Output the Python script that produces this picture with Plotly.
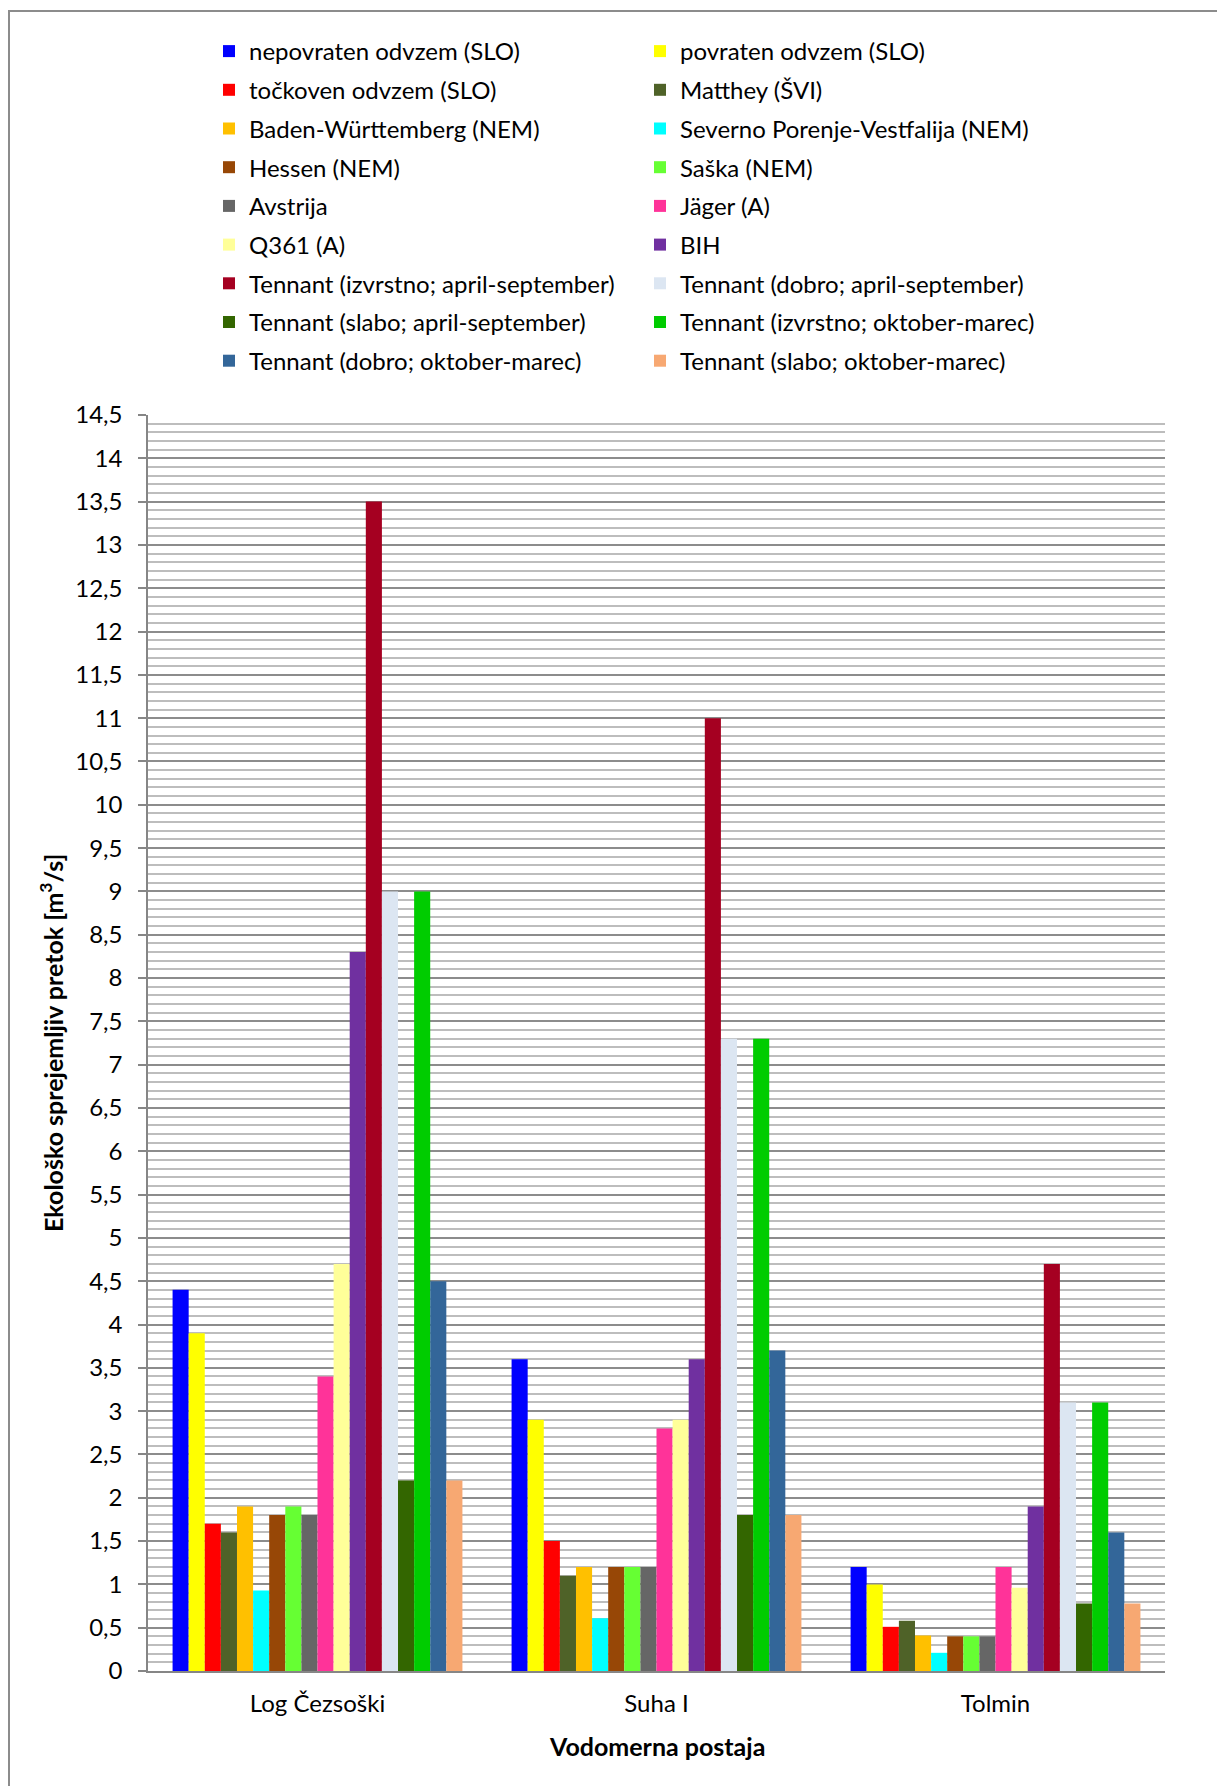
import plotly.graph_objects as go

categories = ["Log Čezsoški", "Suha I", "Tolmin"]

series_names = [
    "nepovraten odvzem (SLO)",
    "povraten odvzem (SLO)",
    "točkoven odvzem (SLO)",
    "Matthey (ŠVI)",
    "Baden-Württemberg (NEM)",
    "Severno Porenje-Vestfalija (NEM)",
    "Hessen (NEM)",
    "Saška (NEM)",
    "Avstrija",
    "Jäger (A)",
    "Q361 (A)",
    "BIH",
    "Tennant (izvrstno; april-september)",
    "Tennant (dobro; april-september)",
    "Tennant (slabo; april-september)",
    "Tennant (izvrstno; oktober-marec)",
    "Tennant (dobro; oktober-marec)",
    "Tennant (slabo; oktober-marec)",
]

nepovraten = [4.4, 3.6, 1.2]
povraten = [3.9, 2.9, 1.0]
tockoven = [1.7, 1.5, 0.51]
matthey = [1.6, 1.1, 0.58]
baden = [1.9, 1.2, 0.41]
severno = [0.93, 0.61, 0.21]
hessen = [1.8, 1.2, 0.4]
saska = [1.9, 1.2, 0.4]
avstrija = [1.8, 1.2, 0.4]
jager = [3.4, 2.8, 1.2]
q361 = [4.7, 2.9, 0.96]
bih = [8.3, 3.6, 1.9]
ten_izv_as = [13.5, 11.0, 4.7]
ten_dob_as = [9.0, 7.3, 3.1]
ten_sla_as = [2.2, 1.8, 0.78]
ten_izv_om = [9.0, 7.3, 3.1]
ten_dob_om = [4.5, 3.7, 1.6]
ten_sla_om = [2.2, 1.8, 0.78]

series_values = [nepovraten, povraten, tockoven, matthey, baden, severno, hessen,
                 saska, avstrija, jager, q361, bih, ten_izv_as, ten_dob_as,
                 ten_sla_as, ten_izv_om, ten_dob_om, ten_sla_om]

colors = ["#0000FF", "#FFFF00", "#FF0000", "#4F6228", "#FFC000", "#00FFFF",
          "#974706", "#66FF33", "#666666", "#FF3399", "#FFFF99", "#7030A0",
          "#A50021", "#DCE6F2", "#336600", "#00CC00", "#336699", "#F7A872"]

y_title = "<b>Ekološko sprejemljiv pretok [m<sup>3</sup>/s]</b>"
x_title = "<b>Vodomerna postaja</b>"

FONT = "Lato"
FS = 24
TFS = 25
# page has an 8px body margin, so the figure is drawn offset by 8px
W, H = 1217, 1778
ML, MR, MT, MB = 140, 60, 407, 115
PW, PH = W - ML - MR, H - MT - MB

fig = go.Figure()
for i, (name, vals, col) in enumerate(zip(series_names, series_values, colors)):
    fig.add_trace(go.Bar(
        x=categories, y=vals, name=name,
        marker=dict(color=col, line=dict(width=0)),
        legend="legend" if i % 2 == 0 else "legend2",
        legendgroup=f"g{i}",
    ))

legend_common = dict(
    orientation="v", traceorder="grouped", tracegroupgap=4.5,
    font=dict(family=FONT, size=FS, color="#000000"),
    bgcolor="rgba(0,0,0,0)", borderwidth=0,
    xref="container", yref="container", xanchor="left", yanchor="top",
    itemclick=False, itemdoubleclick=False,
)

fig.update_layout(
    width=W, height=H,
    margin=dict(l=ML, r=MR, t=MT, b=MB, autoexpand=False),
    paper_bgcolor="white", plot_bgcolor="white",
    separators=", ",
    barmode="group", bargap=0.145, bargroupgap=0,
    font=dict(family=FONT, size=FS, color="#000000"),
    legend=dict(x=201 / W, y=1 - 21 / H, **legend_common),
    legend2=dict(x=632 / W, y=1 - 21 / H, **legend_common),
    xaxis=dict(
        showline=True, linecolor="#868686", linewidth=1.5,
        ticks="", showgrid=False, ticklabelstandoff=10,
        tickfont=dict(family=FONT, size=FS, color="#000000"),
    ),
    yaxis=dict(
        range=[0, 14.5], dtick=0.5, tick0=0,
        showline=True, linecolor="#868686", linewidth=1.5,
        ticks="outside", ticklen=8, tickcolor="#868686", tickwidth=1.5,
        ticklabelstandoff=11,
        showgrid=True, gridcolor="#8c8c8c", gridwidth=1.5,
        minor=dict(dtick=0.1, showgrid=True, gridcolor="#bdbdbd", gridwidth=1.5, ticks=""),
        zeroline=False,
        tickfont=dict(family=FONT, size=FS, color="#000000"),
    ),
    annotations=[
        dict(text=y_title, xref="paper", yref="paper", x=(43 - ML) / PW, y=0.5,
             xanchor="center", yanchor="middle", textangle=-90, showarrow=False,
             font=dict(family=FONT, size=TFS, color="#000000")),
        dict(text=x_title, xref="paper", yref="paper", x=0.5, y=-(1738 - (H - MB)) / PH,
             xanchor="center", yanchor="middle", showarrow=False,
             font=dict(family=FONT, size=TFS, color="#000000")),
    ],
    shapes=[dict(type="rect", xref="paper", yref="paper",
                 x0=(1 - ML) / PW, x1=(W + 10 - ML) / PW,
                 y0=-(H + 10 - (H - MB)) / PH, y1=(H - MB - 3) / PH,
                 line=dict(color="#8c8c8c", width=2), fillcolor="rgba(0,0,0,0)",
                 layer="below")],
)

fig.write_html("out.html")
